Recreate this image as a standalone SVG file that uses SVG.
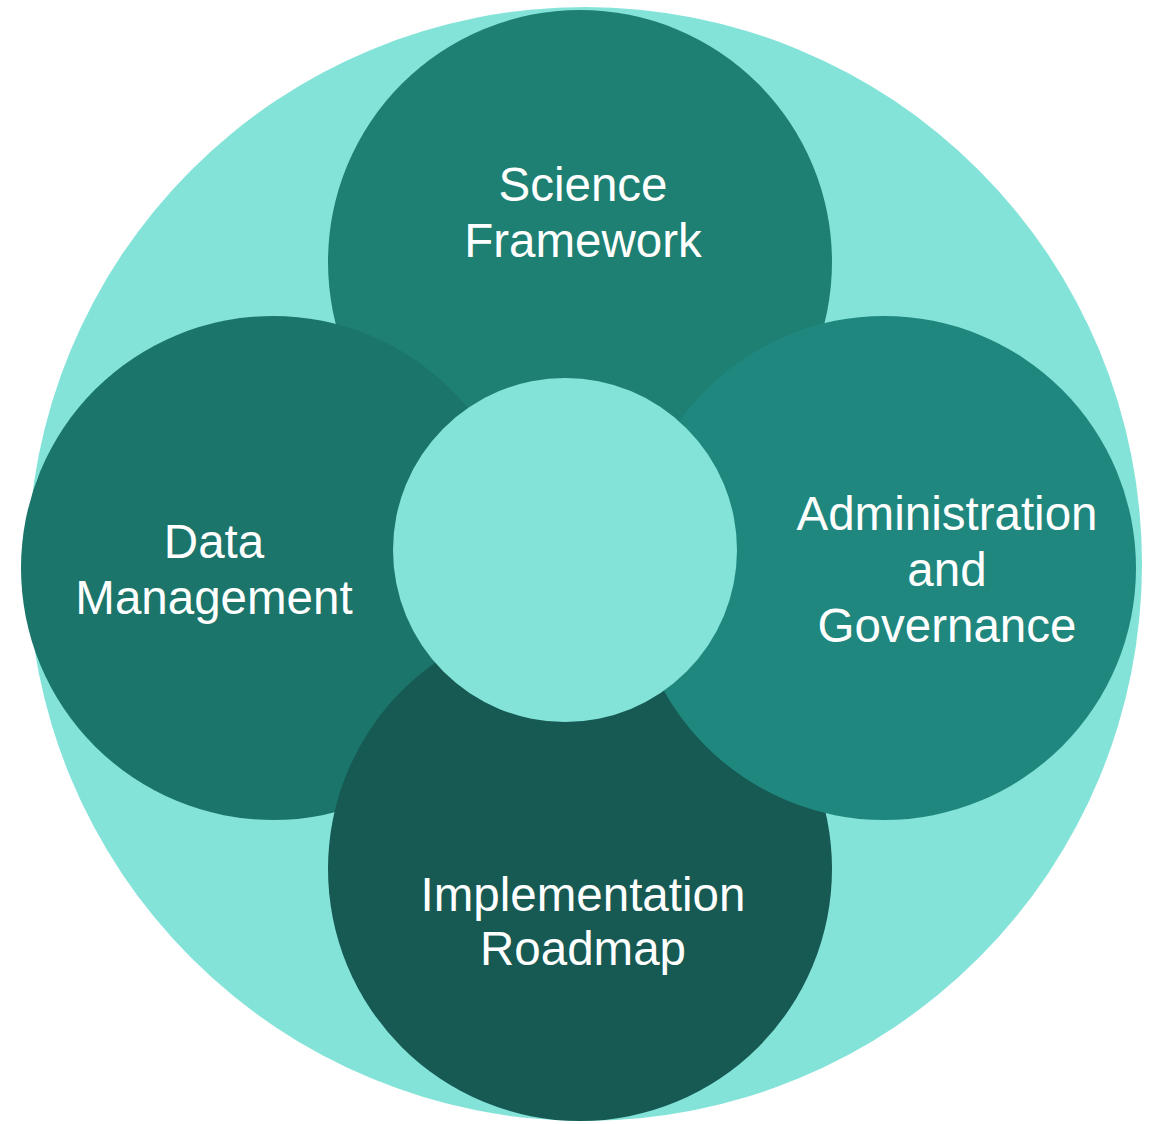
<svg xmlns="http://www.w3.org/2000/svg" width="1153" height="1124" viewBox="0 0 1153 1124">
<style>
.lbl{font-family:"Liberation Sans",Arial,sans-serif;font-size:47.5px;fill:#ffffff;text-anchor:middle}
</style>
<rect width="1153" height="1124" fill="#ffffff"/>
<g id="outer"><circle cx="585" cy="564" r="557" fill="#84E3D9"/></g>
<g id="science"><circle cx="580" cy="262" r="252" fill="#1E7F73"/>
<text class="lbl" x="583" y="201">Science</text><text class="lbl" x="583" y="257">Framework</text></g>
<g id="data"><circle cx="273" cy="568" r="252" fill="#1B756A"/>
<text class="lbl" x="214" y="558">Data</text><text class="lbl" x="214" y="614">Management</text></g>
<g id="implementation"><circle cx="580" cy="869" r="252" fill="#165A53"/>
<text class="lbl" x="583" y="911">Implementation</text><text class="lbl" x="583" y="965">Roadmap</text></g>
<g id="administration"><circle cx="884" cy="568" r="252" fill="#1F877E"/>
<text class="lbl" x="947" y="530">Administration</text><text class="lbl" x="947" y="586">and</text><text class="lbl" x="947" y="642">Governance</text></g>
<g id="center"><circle cx="565" cy="550" r="172" fill="#84E3D9"/></g>
<g id="connectors"></g>
</svg>
